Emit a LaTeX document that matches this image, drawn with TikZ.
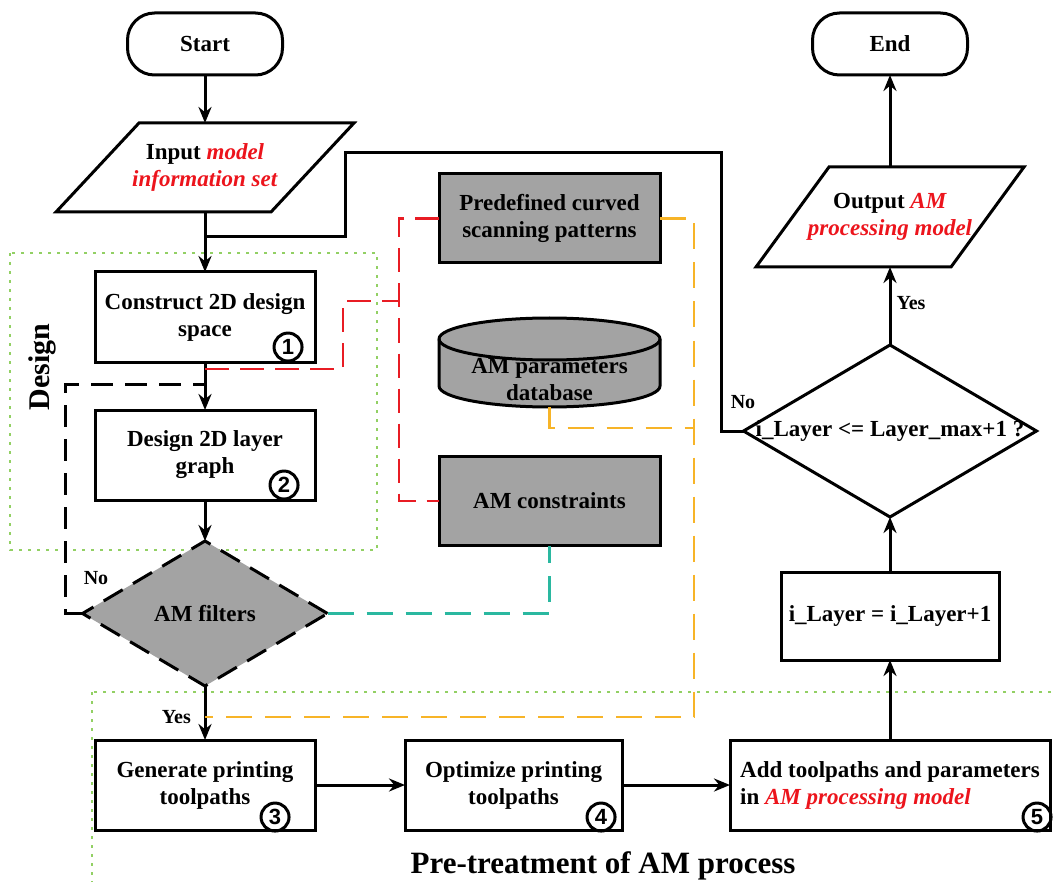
\documentclass[tikz,border=0pt]{standalone}
\usepackage{fontspec}
\setmainfont{Liberation Serif}
\newfontfamily\numfont{Liberation Sans}
\usetikzlibrary{shapes, shapes.geometric, arrows, arrows.meta, positioning}

\definecolor{boxgray}{RGB}{163,163,163}
\definecolor{linkred}{RGB}{232,28,36}
\definecolor{linkorange}{RGB}{247,180,40}
\definecolor{linkteal}{RGB}{42,184,160}
\definecolor{regiongreen}{RGB}{146,208,100}
\definecolor{textred}{RGB}{236,20,28}

\newcommand{\boxfont}{\bfseries\fontsize{23}{27}\selectfont}
\newcommand{\hl}[1]{\textcolor{textred}{\textit{#1}}}

\begin{document}
\begin{tikzpicture}[node distance=2cm, x=1pt, y=1pt]
% Define styles
\tikzstyle{terminal} = [rectangle, draw, line width=3pt, outer sep=0pt, rounded corners=27pt, minimum width=155pt, minimum height=62pt, font=\boxfont]
\tikzstyle{io} = [rectangle, outer sep=0pt, align=center, font=\boxfont]
\tikzstyle{ioframe} = [line width=3pt, line join=miter]
\tikzstyle{box} = [rectangle, draw, line width=3pt, outer sep=0pt, align=center, minimum width=220pt, minimum height=90pt, font=\boxfont]
\tikzstyle{graybox} = [box, fill=boxgray, minimum width=221pt, minimum height=89pt]
\tikzstyle{decision} = [diamond, draw, line width=3pt, outer sep=0pt, inner sep=0pt, font=\boxfont]
\tikzstyle{stepmark} = [circle, draw, line width=3pt, minimum size=28pt, inner sep=0pt, font=\numfont\bfseries\fontsize{22}{22}\selectfont]
\tikzstyle{tag} = [font=\bfseries\fontsize{20}{24}\selectfont, inner sep=0pt]
\tikzstyle{arrow} = [line width=3pt,->,>={Stealth[length=16pt,width=13pt]}]
\tikzstyle{line} = [line width=3pt]
\tikzstyle{blackdash} = [line width=3pt, dash pattern=on 22pt off 12pt]
\tikzstyle{reddash} = [line width=2.4pt, linkred, dash pattern=on 24pt off 11pt]
\tikzstyle{orangedash} = [line width=2.4pt, linkorange, dash pattern=on 26pt off 13pt]
\tikzstyle{tealdash} = [line width=2.4pt, linkteal, dash pattern=on 26pt off 13pt]
\tikzstyle{region} = [line width=2.6pt, regiongreen, dash pattern=on 2.6pt off 6.4pt]

\useasboundingbox (0,0) rectangle (1054,-882);

% Regions
\draw [region] (10,-253) rectangle (377,-550);
\draw [region] (92,-692) rectangle (1070,-900);
\node (designtitle) [rotate=90, font=\bfseries\fontsize{30}{30}\selectfont] at (42,-367) {Design};
\node (pretitle) [font=\bfseries\fontsize{31}{31}\selectfont] at (603,-866) {Pre-treatment of AM process};

% Design
\node (start) [terminal] at (205,-44) {Start};
\node (input) [io, minimum width=298pt, minimum height=89pt, below=48pt of start] {Input \hl{model}\\\hl{information set}};
\draw [ioframe] (input.south west) -- ++(215,0) -- (input.north east) -- ++(-215,0) -- cycle;
\node (construct) [box, below=60pt of input] {Construct 2D design\\space};
\node (layer) [box, below=48pt of construct] {Design 2D layer\\graph};
\node (filters) [decision, fill=boxgray, dash pattern=on 22pt off 12pt, minimum width=245pt, minimum height=145pt, below=41pt of layer] {AM filters};

% Knowledge
\node (predef) [graybox] at (549.5,-218.5) {Predefined curved\\scanning patterns};
\node (database) [rectangle, outer sep=0pt, minimum width=221pt, minimum height=89pt] at (549.5,-362.5) {};
\filldraw [line width=3pt, fill=boxgray] ([yshift=-21pt]database.north west) -- ([yshift=21pt]database.south west)
  arc[start angle=180, end angle=360, x radius=110.5, y radius=21] -- ([yshift=-21pt]database.north east)
  arc[start angle=0, end angle=180, x radius=110.5, y radius=21] -- cycle;
\draw [line width=3pt] ([yshift=-21pt]database.north west) arc[start angle=180, end angle=360, x radius=110.5, y radius=21];
\node (dbtext) [font=\boxfont, align=center] at ([yshift=-17pt]database.center) {AM parameters\\database};
\node (constraints) [graybox] at (549.5,-501) {AM constraints};

% Pre-treatment
\node (generate) [box, below=54pt of filters] {Generate printing\\toolpaths};
\node (optimize) [box, minimum width=217pt, right=90pt of generate] {Optimize printing\\toolpaths};
\node (add) [box, minimum width=320pt, align=left, right=108pt of optimize] {Add toolpaths and parameters\\in \hl{AM processing model}};

% Step marks
\node (mark1) [stepmark, above left=4pt and 16pt of construct.south east] {1};
\node (mark2) [stepmark, above left=4pt and 20pt of layer.south east] {2};
\node (mark3) [stepmark, above left=2pt and 29pt of generate.south east] {3};
\node (mark4) [stepmark, above left=2pt and 10pt of optimize.south east] {4};
\node (mark5) [stepmark, above left=2pt and 2pt of add.south east] {5};

% Layer loop
\node (ilayer) [box, minimum width=218pt, minimum height=88pt, above=80pt of add] {i\_Layer = i\_Layer+1};
\node (check) [decision, minimum width=293pt, minimum height=172pt, above=55pt of ilayer] {\makebox[0pt]{i\_Layer <= Layer\_max+1 ?}};
\node (output) [io, minimum width=268pt, minimum height=100pt, above=78pt of check] {Output \hl{AM}\\\hl{processing model}};
\draw [ioframe] (output.south west) -- ++(195,0) -- (output.north east) -- ++(-195,0) -- cycle;
\node (end) [terminal, above=92pt of output] {End};

% Main flow
\draw [arrow] (start) -- (input);
\draw [arrow] (input) -- (construct);
\draw [arrow] (construct) -- (layer);
\draw [arrow] (layer) -- (filters);
\draw [arrow] (filters) -- (generate);
\draw [arrow] (generate) -- (optimize);
\draw [arrow] (optimize) -- (add);
\draw [arrow] (add) -- (ilayer);
\draw [arrow] (ilayer) -- (check);
\draw [arrow] (check) -- (output);
\draw [arrow] (output) -- (end);

% Feedback
\coordinate (looptop) at (345,-153);
\coordinate (loopjoin) at (205,-237);
\draw [line] (check.west) -- ++(-22,0) |- (looptop) |- (loopjoin);
\coordinate (nojoin) at (205,-384);
\draw [blackdash] (filters.west) -- ++(-17,0) |- (nojoin);

% Knowledge links
\draw [reddash] (predef.west) -- ++(-40,0) |- (constraints.west);
\coordinate (redjoin) at (205,-369);
\coordinate (redtee) at (399,-301);
\draw [reddash] (redjoin) -- ++(138,0) |- (redtee);
\coordinate (yesjoin) at (205,-717);
\draw [orangedash] (predef.east) -- ++(34,0) |- (yesjoin);
\coordinate (dbjoin) at (694,-428);
\draw [orangedash] (database.south) |- (dbjoin);
\draw [tealdash] (filters.east) -| (constraints.south);

% Labels
\node (yesfilt) [tag, left=14pt of yesjoin] {Yes};
\node (nofilt) [tag] at (96,-578) {No};
\node (nocheck) [tag] at (743,-402) {No};
\node (yescheck) [tag] at (911,-303) {Yes};
\end{tikzpicture}
\end{document}
